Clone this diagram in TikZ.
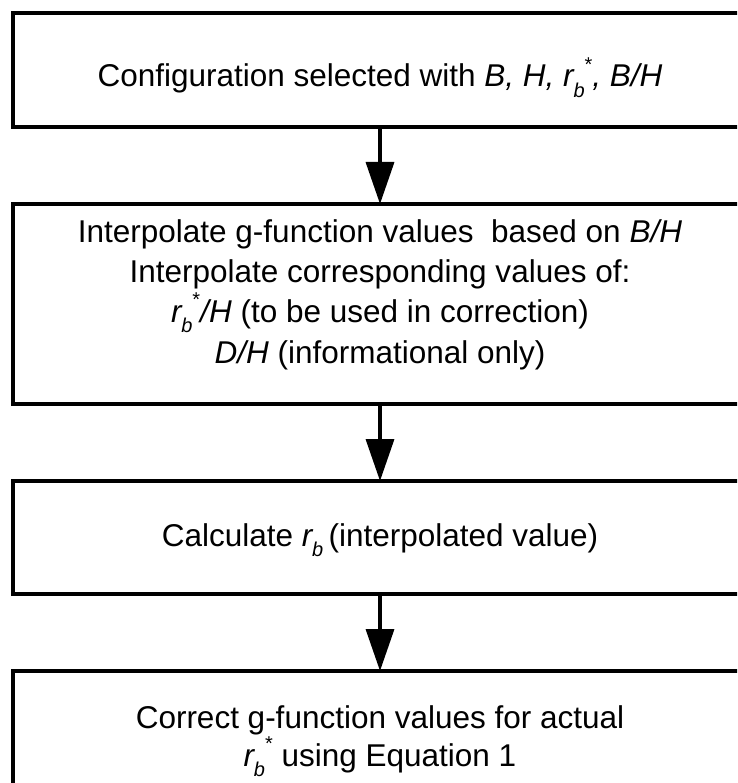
\documentclass[tikz,border=0pt]{standalone}
\usepackage{fontspec}
\setmainfont{Liberation Sans}
\usetikzlibrary{arrows.meta}
\newcommand{\scr}{\fontsize{20}{20}\selectfont}
\newcommand{\rbstar}{\textit{r}\kern-0.04em\raisebox{-0.33em}{\scr\textit{b}}\raisebox{0.5em}{\scr *}}
\newcommand{\rbsub}{\textit{r}\kern-0.04em\raisebox{-0.33em}{\scr\textit{b}}}
\begin{document}
\begin{tikzpicture}[x=1pt,y=-1pt,
  box/.style={draw, line width=4pt, rectangle, minimum width=734pt, inner sep=0pt, outer sep=0pt},
  txt/.style={anchor=base, inner sep=0pt, font=\fontsize{31.5}{38}\selectfont},
  flow/.style={line width=3.5pt, -{Triangle[width=28pt,length=42pt]}}]
\clip (0,0) rectangle (737,783);
\fill[white] (0,0) rectangle (737,783);
\node[box, minimum height=114pt] (b1) at (380,70.5) {};
\node[box, minimum height=200pt] (b2) at (380,304) {};
\node[box, minimum height=113pt] (b3) at (380,537.5) {};
\node[box, minimum height=160pt] (b4) at (380,751) {};
\draw[flow] (b1.south) -- (b2.north);
\draw[flow] (b2.south) -- (b3.north);
\draw[flow] (b3.south) -- (b4.north);
\node[txt] (t1) at (380,87) {Configuration selected with \textit{B, H, }\rbstar\textit{, B/H}};
\node[txt] (t2a) at (380,243) {Interpolate g-function values\ \ based on \textit{B/H}};
\node[txt] (t2b) at (380,282) {Interpolate corresponding values of:};
\node[txt] (t2c) at (380,322.5) {\rbstar\textit{/H} (to be used in correction)};
\node[txt] (t2d) at (380,363) {\textit{D/H} (informational only)};
\node[txt] (t3) at (380,546) {Calculate \rbsub\,(interpolated value)};
\node[txt] (t4a) at (380,728) {Correct g-function values for actual};
\node[txt] (t4b) at (380,766) {\rbstar\ using Equation 1};
\end{tikzpicture}
\end{document}
